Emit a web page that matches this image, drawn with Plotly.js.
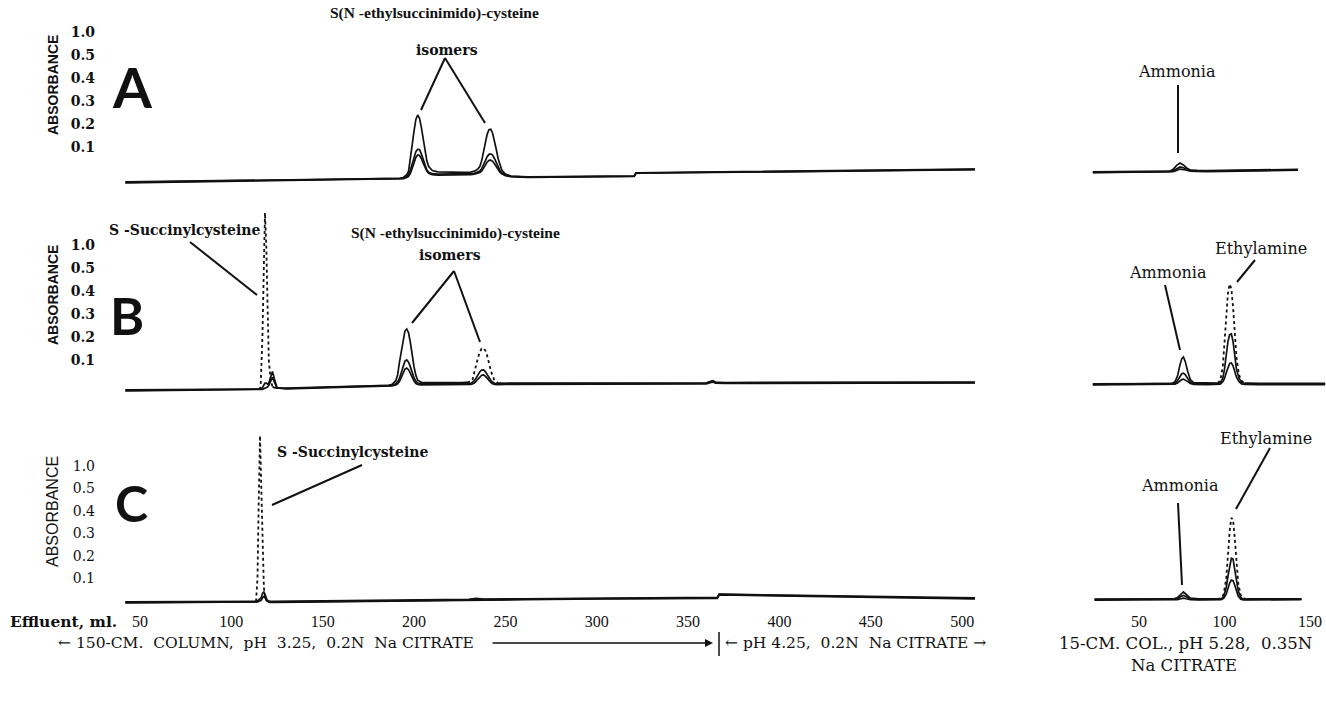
<!DOCTYPE html>
<html>
<head>
<meta charset="utf-8">
<script src="https://cdn.plot.ly/plotly-3.0.1.min.js"></script>
<style>html,body{margin:0;padding:0;background:#fff;}#chart{width:1326px;height:701px;}</style>
</head>
<body>
<div id="chart"></div>
<script>
// ---------------- DATA (effluent ml vs absorbance reading) ----------------
// Panel A, 150-cm column
const aX   = [42,120,192,194,196,197,198,199,200,201,202,203,204,205,206,207,208,210,213,220,228,231,233,235,236,237,238,239,240,241,242,243,244,245,246,247,248,250,253,262,320.5,321.5,400,507];
const aCh1 = [-0.052,-0.044,-0.036,-0.033,-0.02,-0.005,0.045,0.11,0.17,0.22,0.239,0.225,0.185,0.135,0.08,0.04,0.015,-0.002,-0.008,-0.01,-0.01,-0.009,-0.005,0.005,0.015,0.04,0.075,0.115,0.155,0.175,0.177,0.16,0.13,0.09,0.05,0.02,0.0,-0.018,-0.026,-0.03,-0.026,-0.012,-0.006,0.004];
const aCh2 = [-0.054,-0.046,-0.038,-0.036,-0.028,-0.02,0.0,0.025,0.055,0.08,0.09,0.088,0.07,0.045,0.02,0.0,-0.01,-0.016,-0.018,-0.018,-0.017,-0.016,-0.014,-0.01,-0.005,0.005,0.02,0.04,0.058,0.068,0.07,0.065,0.05,0.03,0.012,-0.002,-0.012,-0.022,-0.028,-0.031,-0.027,-0.013,-0.007,0.003];
const aCh3 = [-0.056,-0.048,-0.04,-0.038,-0.033,-0.028,-0.015,0.005,0.03,0.055,0.065,0.063,0.05,0.03,0.01,-0.005,-0.014,-0.02,-0.022,-0.022,-0.021,-0.02,-0.018,-0.015,-0.011,-0.005,0.006,0.02,0.034,0.042,0.043,0.038,0.027,0.013,0.0,-0.01,-0.017,-0.025,-0.029,-0.032,-0.028,-0.014,-0.008,0.002];
// Panel A, 15-cm column
const arX   = [23,60,68,70,72,74,76,78,80,84,90,143];
const arCh1 = [-0.008,-0.006,-0.005,0.003,0.02,0.03,0.022,0.008,0.0,-0.002,-0.003,0.003];
const arCh2 = [-0.01,-0.008,-0.007,-0.003,0.006,0.013,0.01,0.003,-0.002,-0.004,-0.005,0.001];
const arCh3 = [-0.012,-0.01,-0.009,-0.007,-0.002,0.004,0.002,-0.002,-0.005,-0.006,-0.007,-0.001];

// Panel B, 150-cm column
const bX   = [42,110,115,116,117,117.7,118.4,119.1,119.8,120.5,121.5,122.5,123.5,125,130,186,188,190,191,192,193,194,195,196,197,198,199,200,201,202,204,207,215,226,229,231,232,233,234,235,236,237,238,239,240,241,242,243,244,246,250,300,360,362,363.5,365,370,507];
const bCh1 = [-0.03,-0.026,-0.026,-0.02,0.2,0.5,0.74,0.6,0.3,0.1,0.01,-0.015,-0.02,-0.022,-0.022,-0.01,-0.006,0.01,0.035,0.09,0.14,0.19,0.226,0.235,0.218,0.175,0.12,0.07,0.033,0.012,0.003,0.002,0.002,0.002,0.003,0.006,0.015,0.05,0.08,0.11,0.135,0.15,0.152,0.142,0.12,0.085,0.055,0.03,0.012,0.0,-0.001,0.0,0.001,0.006,0.01,0.004,0.002,0.004];
const bCh2 = [-0.032,-0.028,-0.028,-0.027,-0.02,-0.01,0.0,0.0,-0.005,0.0,0.03,0.05,0.02,-0.02,-0.024,-0.012,-0.01,-0.004,0.005,0.02,0.045,0.075,0.095,0.1,0.09,0.07,0.045,0.022,0.008,0.0,-0.003,-0.004,-0.004,-0.004,-0.003,-0.001,0.003,0.01,0.022,0.036,0.049,0.056,0.057,0.05,0.037,0.023,0.012,0.004,-0.001,-0.003,-0.003,-0.002,-0.001,0.004,0.008,0.002,0.0,0.002];
const bCh3 = [-0.034,-0.03,-0.03,-0.03,-0.028,-0.025,-0.022,-0.02,-0.018,-0.01,0.01,0.025,0.005,-0.022,-0.026,-0.014,-0.013,-0.009,-0.004,0.006,0.022,0.042,0.06,0.065,0.058,0.042,0.024,0.008,-0.002,-0.006,-0.008,-0.008,-0.008,-0.008,-0.007,-0.006,-0.004,0.0,0.008,0.018,0.028,0.034,0.035,0.03,0.021,0.011,0.003,-0.003,-0.006,-0.007,-0.006,-0.005,-0.004,0.001,0.004,-0.001,-0.002,0.0];
// Panel B, 15-cm column
const brX   = [23,60,69,71,72.5,74,75,76,77,78.5,80,82,90,96,97.5,99,100,101,102,103,104,105,106,107,108.5,110,112,120,159];
const brCh1 = [-0.004,-0.003,-0.003,0.005,0.03,0.08,0.105,0.113,0.095,0.05,0.015,0.002,0.0,0.0,0.01,0.07,0.17,0.29,0.39,0.43,0.41,0.33,0.21,0.11,0.035,0.008,0.0,-0.001,-0.002];
const brCh2 = [-0.006,-0.005,-0.005,-0.002,0.01,0.03,0.04,0.043,0.037,0.02,0.004,-0.003,-0.004,-0.004,0.0,0.02,0.06,0.12,0.18,0.21,0.213,0.18,0.12,0.06,0.02,0.004,-0.003,-0.004,-0.004];
const brCh3 = [-0.008,-0.007,-0.007,-0.005,0.0,0.01,0.015,0.017,0.014,0.006,-0.002,-0.006,-0.007,-0.007,-0.005,0.005,0.02,0.045,0.07,0.085,0.087,0.075,0.05,0.025,0.006,-0.004,-0.006,-0.007,-0.007];

// Panel C, 150-cm column
const cX   = [42,110,113.5,114.3,115,115.7,116.4,117.1,117.8,118.6,119.5,121,124,200,230,234,238,260,301,366,367,400,507];
const cCh1 = [-0.004,-0.002,-0.002,0.1,0.45,0.735,0.5,0.2,0.06,0.01,0.0,-0.002,-0.002,0.004,0.007,0.012,0.008,0.01,0.013,0.016,0.031,0.026,0.014];
const cCh2 = [-0.006,-0.004,-0.004,0.0,0.005,0.01,0.015,0.035,0.04,0.025,0.005,-0.004,-0.004,0.002,0.005,0.009,0.006,0.008,0.011,0.014,0.029,0.024,0.011];
const cCh3 = [-0.008,-0.006,-0.006,-0.004,-0.002,0.0,0.004,0.015,0.02,0.012,0.0,-0.006,-0.006,0.0,0.003,0.006,0.004,0.006,0.009,0.012,0.027,0.022,0.009];
// Panel C, 15-cm column
const crX   = [24,60,70,72.5,74.5,76,77.5,80,85,96,98,99.5,101,102,103,104,105,106,107,108,109.5,111,113,120,145];
const crCh1 = [0.008,0.009,0.009,0.015,0.032,0.04,0.03,0.013,0.009,0.009,0.012,0.03,0.1,0.2,0.31,0.37,0.36,0.28,0.17,0.08,0.025,0.012,0.009,0.009,0.01];
const crCh2 = [0.006,0.007,0.007,0.01,0.02,0.025,0.019,0.009,0.007,0.007,0.008,0.02,0.06,0.11,0.16,0.19,0.186,0.145,0.09,0.045,0.016,0.008,0.007,0.007,0.008];
const crCh3 = [0.004,0.005,0.005,0.006,0.01,0.013,0.01,0.006,0.005,0.005,0.006,0.012,0.03,0.055,0.08,0.093,0.09,0.07,0.045,0.022,0.008,0.005,0.005,0.005,0.006];

// tick labels
const longColTicks  = [50,100,150,200,250,300,350,400,450,500];
const shortColTicks = [50,100,150];
const absTickLabels = ["0.1","0.2","0.3","0.4","0.5","1.0"];

// ---------------- LAYOUT HELPERS ----------------
const W = 1326, H = 701;
const fx = p => p / W;
const fy = p => 1 - p / H;

// dotted (off-scale pen) segments of the high-sensitivity channel
const bDotL = [[115,122.5],[229,246]];
const bDotR = [[96,112]];
const cDotL = [[113.5,119.5]];
const cDotR = [[96,113]];

function splitDotted(x, y, ranges){
  const solid = y.map((v,i)=> ranges.some(r=> x[i] > r[0] && x[i] < r[1]) ? null : v);
  const dot   = y.map((v,i)=> ranges.some(r=> x[i] >= r[0] && x[i] <= r[1]) ? v : null);
  return {solid, dot};
}

const traces = [];
function addLine(x, y, xa, ya, dash){
  traces.push({
    x: x, y: y, xaxis: xa, yaxis: ya, type: 'scatter', mode: 'lines',
    line: {color: '#111', width: dash ? 1.8 : 1.7, dash: dash ? 'dot' : 'solid', shape: 'linear'},
    connectgaps: false, hoverinfo: 'skip', showlegend: false, cliponaxis: false
  });
}
function addPanel(x, ch1, ch2, ch3, xa, ya, dotRanges){
  addLine(x, ch3, xa, ya);
  addLine(x, ch2, xa, ya);
  if (dotRanges){
    const s = splitDotted(x, ch1, dotRanges);
    addLine(x, s.solid, xa, ya);
    addLine(x, s.dot, xa, ya, true);
  } else {
    addLine(x, ch1, xa, ya);
  }
}
addPanel(aX, aCh1, aCh2, aCh3, 'x', 'y');
addPanel(arX, arCh1, arCh2, arCh3, 'x4', 'y');
addPanel(bX, bCh1, bCh2, bCh3, 'x2', 'y2', bDotL);
addPanel(brX, brCh1, brCh2, brCh3, 'x5', 'y2', bDotR);
addPanel(cX, cCh1, cCh2, cCh3, 'x3', 'y3', cDotL);
addPanel(crX, crCh1, crCh2, crCh3, 'x6', 'y3', cDotR);

// axis geometry (pixels)
const leftDom  = [fx(121.73), fx(980.42)];
const rightDom = [fx(1087.7), fx(1325.4)];
const serif = 'DejaVu Serif, Liberation Serif, serif';

function hiddenX(dom, range, anchor){
  return {domain: dom, range: range, anchor: anchor, showgrid:false, zeroline:false, showline:false, showticklabels:false, ticks:'', fixedrange:true};
}
function tickX(dom, range, anchor, vals){
  return {domain: dom, range: range, anchor: anchor, showgrid:false, zeroline:false, showline:false, ticks:'',
          tickvals: vals, ticktext: vals.map(String), tickfont:{family:'Liberation Serif, serif', size:16, color:'#111'}, fixedrange:true};
}
function yAx(dom, range, bold){
  return {domain: dom, range: range, anchor:'free', position: fx(95), showgrid:false, zeroline:false, showline:false, ticks:'',
          tickvals:[0.1,0.2,0.3,0.4,0.5,0.6], ticktext: absTickLabels,
          tickfont:{family: serif, size: 14, color:'#111', weight: bold ? 'bold' : 'normal'}, fixedrange:true};
}

const annotations = [];
function txt(text, x, y, o){
  o = o || {};
  annotations.push(Object.assign({
    text: text, x: fx(x), y: fy(y), xref:'paper', yref:'paper', showarrow:false,
    xanchor: o.xanchor || 'center', yanchor: 'middle',
    font: {family: o.family || serif, size: o.size || 14, color:'#111', weight: o.weight || 'normal'}
  }, o.textangle !== undefined ? {textangle: o.textangle} : {}));
}
const shapes = [];
function ln(x0,y0,x1,y1,w){
  shapes.push({type:'line', xref:'paper', yref:'paper', x0:fx(x0), y0:fy(y0), x1:fx(x1), y1:fy(y1), line:{color:'#111', width: w || 2}});
}

const bigFont = 'Lato, Noto Sans, sans-serif';
// Panel A annotations
txt('A', 132, 87, {family:bigFont, size:56, weight:'bold'});
txt('ABSORBANCE', 53, 85, {family:'Liberation Sans, Arial, sans-serif', size:14, weight:'bold', textangle:-90});
txt('S(N -ethylsuccinimido)-cysteine', 434, 13, {family:'Liberation Serif, serif', size:15.5, weight:'bold'});
txt('isomers', 447, 50, {size:14, weight:'bold'});
ln(445,58,421,110); ln(445,58,485,123);
txt('Ammonia', 1177, 72, {size:16});
ln(1178,85,1178,153);

// Panel B annotations
txt('B', 127, 315, {family:bigFont, size:52, weight:'bold'});
txt('ABSORBANCE', 53, 295, {family:'Liberation Sans, Arial, sans-serif', size:14, weight:'bold', textangle:-90});
txt('S -Succinylcysteine', 184, 230, {size:14, weight:'bold'});
ln(190,242,257,295);
txt('S(N -ethylsuccinimido)-cysteine', 455, 233, {family:'Liberation Serif, serif', size:15.5, weight:'bold'});
txt('isomers', 450, 255, {size:14, weight:'bold'});
ln(454,271,412,323); ln(454,271,480,342);
txt('Ammonia', 1168, 272, {size:16});
ln(1165,285,1180,350);
txt('Ethylamine', 1261, 249, {size:16});
ln(1255,260,1237,282);

// Panel C annotations
txt('C', 131, 503, {family:bigFont, size:50, weight:'bold'});
txt('ABSORBANCE', 52, 512, {family:'Liberation Sans, Arial, sans-serif', size:16, textangle:-90});
txt('S -Succinylcysteine', 352, 452, {size:14, weight:'bold'});
ln(362,465,272,505);
txt('Ammonia', 1180, 485, {size:16});
ln(1178,503,1182,585);
txt('Ethylamine', 1266, 438, {size:16});
ln(1270,448,1236,509);

// Bottom captions
txt('Effluent, ml.', 8, 621, {xanchor:'left', size:15.5, weight:'bold'});
txt('\u2190 150-CM.  COLUMN,  pH  3.25,  0.2N  Na CITRATE', 56, 643, {xanchor:'left', size:15.5});
annotations.push({x: fx(713), y: fy(643), xref:'paper', yref:'paper', text:'', showarrow:true,
  ax: -222, ay: 0, axref:'pixel', ayref:'pixel', arrowhead:2, arrowsize:1, arrowwidth:1.6, arrowcolor:'#111'});
ln(719,632,719,656,1.5);
txt('\u2190 pH 4.25,  0.2N  Na CITRATE \u2192', 723, 643, {xanchor:'left', size:15.5});
txt('15-CM. COL., pH 5.28,  0.35N', 1185, 643, {size:16.5});
txt('Na CITRATE', 1184, 665, {size:16.5});

const layout = {
  width: W, height: H,
  margin: {l:0, r:0, t:0, b:0},
  paper_bgcolor: '#fff', plot_bgcolor: 'rgba(0,0,0,0)',
  showlegend: false,
  xaxis:  hiddenX(leftDom,  [40,510], 'y'),
  xaxis2: hiddenX(leftDom,  [40,510], 'y2'),
  xaxis3: tickX(leftDom,   [40,510], 'y3', longColTicks),
  xaxis4: hiddenX(rightDom, [20,159], 'y'),
  xaxis5: hiddenX(rightDom, [20,159], 'y2'),
  xaxis6: tickX(rightDom,  [20,159], 'y3', shortColTicks),
  yaxis:  yAx([fy(193), fy(4.4)], [-0.1, 0.72], true),
  yaxis2: yAx([fy(406), fy(199)], [-0.1, 0.8], true),
  yaxis3: yAx([fy(610), fy(421)], [-0.04, 0.8], false),
  annotations: annotations,
  shapes: shapes
};

Plotly.newPlot('chart', traces, layout, {displayModeBar:false, staticPlot:true});
</script>
</body>
</html>
